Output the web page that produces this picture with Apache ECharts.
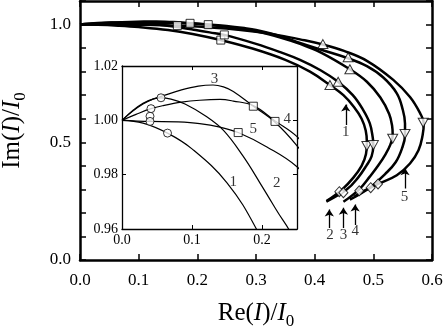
<!DOCTYPE html>
<html>
<head>
<meta charset="utf-8">
<title>Im(I)/I0 vs Re(I)/I0</title>
<script src="https://cdn.jsdelivr.net/npm/echarts@6/dist/echarts.min.js"></script>
<style>
  html, body { margin: 0; padding: 0; background: #fff; }
  #main { width: 443px; height: 336px; }
</style>
</head>
<body>
<div id="main"></div>
<script>
// curves, points are [Re(I)/I0, Im(I)/I0]
var curve1 = [[0,1],[0.03,0.999],[0.065,0.9953],[0.1,0.9895],[0.15,0.977],[0.192,0.960],[0.24,0.934],
  [0.294,0.898],[0.35,0.850],[0.392,0.800],[0.426,0.743],[0.449,0.70],[0.467,0.65],[0.48,0.60],
  [0.487,0.55],[0.489,0.50],[0.4875,0.45],[0.48,0.40],[0.466,0.35],[0.447,0.30],[0.42,0.25]];
var curve2 = [[0,1],[0.015,1.0035],[0.03,1.0063],[0.045,1.0079],[0.0557,1.0083],[0.07,1.0078],
  [0.09,1.006],[0.12,1.0015],[0.145,0.9963],[0.173,0.9868],[0.197,0.977],[0.221,0.9668],[0.246,0.956],
  [0.30,0.918],[0.34,0.884],[0.375,0.850],[0.41,0.806],[0.44,0.757],[0.465,0.70],[0.482,0.64],
  [0.494,0.58],[0.499,0.52],[0.50,0.488],[0.497,0.44],[0.488,0.40],[0.474,0.35],[0.455,0.30],[0.42,0.248]];
var curve3 = [[0,1],[0.015,1.0033],[0.03,1.006],[0.045,1.0079],[0.057,1.0089],[0.085,1.0112],
  [0.109,1.0126],[0.13,1.013],[0.145,1.0123],[0.159,1.0106],[0.1876,1.0052],[0.2186,0.9993],
  [0.2495,0.9908],[0.28,0.980],[0.30,0.971],[0.34,0.946],[0.375,0.918],[0.41,0.882],[0.46,0.81],
  [0.489,0.757],[0.512,0.69],[0.527,0.62],[0.532,0.57],[0.533,0.53],[0.529,0.49],[0.521,0.45],
  [0.508,0.40],[0.494,0.354],[0.476,0.30],[0.449,0.247]];
var curve4 = [[0,1],[0.02,1.0022],[0.0414,1.0043],[0.06,1.0055],[0.085,1.0067],[0.111,1.0074],
  [0.14,1.0077],[0.159,1.0071],[0.1876,1.0054],[0.2186,0.9998],[0.25,0.994],[0.28,0.985],
  [0.30,0.977],[0.34,0.952],[0.375,0.922],[0.41,0.894],[0.457,0.857],[0.489,0.823],[0.517,0.775],
  [0.54,0.708],[0.55,0.64],[0.554,0.58],[0.554,0.53],[0.549,0.475],[0.538,0.415],[0.52,0.365],
  [0.495,0.309],[0.46,0.256]];
var curve5 = [[0,1],[0.04,0.9996],[0.08,0.9994],[0.111,0.9988],[0.14,0.9975],[0.166,0.9955],
  [0.207,0.9902],[0.2495,0.983],[0.30,0.969],[0.34,0.954],[0.375,0.937],[0.414,0.915],[0.45,0.888],
  [0.489,0.846],[0.534,0.765],[0.5625,0.692],[0.58,0.622],[0.586,0.58],[0.584,0.53],[0.577,0.466],
  [0.5625,0.41],[0.54,0.36],[0.508,0.323],[0.485,0.295],[0.468,0.27]];
var curves = [curve1, curve2, curve3, curve4, curve5];

// markers
var squares = [[0.240,0.934],[0.246,0.956],[0.1876,1.0052],[0.2186,0.9996],[0.166,0.9955]];
var upTriangles = [[0.426,0.743],[0.44,0.757],[0.46,0.81],[0.457,0.861],[0.414,0.917]];
var downTriangles = [[0.489,0.484],[0.50,0.488],[0.533,0.515],[0.554,0.535],[0.585,0.583]];
var diamonds = [[0.442,0.29],[0.449,0.286],[0.476,0.294],[0.4955,0.307],[0.508,0.323]];
var circles = [[0.065,0.9953],[0.0557,1.0083],[0.0414,1.0043],[0.04,1.0015],[0.04,0.9996]];

// curve numbers and arrows
var mainLabels = [[0.453,0.545,'1'],[0.426,0.104,'2'],[0.449,0.104,'3'],[0.469,0.125,'4'],[0.553,0.266,'5']];
var arrows = [[[0.453,0.573],[0.453,0.66]],[[0.425,0.136],[0.425,0.215]],[[0.449,0.136],[0.449,0.222]],
  [[0.469,0.149],[0.469,0.236]],[[0.554,0.304],[0.554,0.39]]];
var insetLabels = [[0.159,0.9774,'1'],[0.221,0.9768,'2'],[0.132,1.0153,'3'],[0.236,1.0003,'4'],[0.1876,0.9967,'5']];

var serif = '"Liberation Serif", "Times New Roman", serif';

var myChart = echarts.init(document.getElementById('main'));

function titleRich(size) {
  return {
    a: { fontFamily: serif, fontSize: size, color: '#000' },
    i: { fontFamily: serif, fontSize: size, fontStyle: 'italic', color: '#000' },
    s: { fontFamily: serif, fontSize: 17, color: '#000', padding: [16, 0, 0, 0] }
  };
}

function axis(grid, pos, min, max, interval, opts) {
  var big = grid === 0;
  var a = {
    gridIndex: grid, type: 'value', position: pos, min: min, max: max, interval: interval,
    z: big ? 0 : 5,
    axisLine: { show: true, onZero: false, lineStyle: { color: '#000', width: big ? 2.5 : 1.3 } },
    axisTick: { show: true, inside: true, length: big ? 6 : 4, lineStyle: { color: '#000', width: big ? 1.5 : 1 } },
    axisLabel: { show: false },
    splitLine: { show: false }
  };
  for (var k in opts) a[k] = opts[k];
  return a;
}

var series = [];
curves.forEach(function (c) {
  series.push({ type: 'line', xAxisIndex: 0, yAxisIndex: 0, data: c, smooth: 0.4, symbol: 'none',
    lineStyle: { color: '#000', width: 2.5 }, z: 2 });
  series.push({ type: 'line', xAxisIndex: 2, yAxisIndex: 2, data: c, smooth: 0.4, symbol: 'none',
    lineStyle: { color: '#000', width: 1.2 }, z: 6 });
});

var markerStyle = { color: '#fff', borderColor: '#000', borderWidth: 1 };
series.push({ type: 'scatter', xAxisIndex: 0, yAxisIndex: 0, data: squares, symbol: 'rect', symbolSize: 8, itemStyle: markerStyle, z: 3 });
series.push({ type: 'scatter', xAxisIndex: 0, yAxisIndex: 0, data: upTriangles, symbol: 'triangle', symbolSize: [10, 9], itemStyle: markerStyle, z: 3 });
series.push({ type: 'scatter', xAxisIndex: 0, yAxisIndex: 0, data: downTriangles, symbol: 'triangle', symbolRotate: 180, symbolSize: [10, 9], itemStyle: markerStyle, z: 3 });
series.push({ type: 'scatter', xAxisIndex: 0, yAxisIndex: 0, data: diamonds, symbol: 'diamond', symbolSize: [9, 10], itemStyle: markerStyle, z: 3 });
series.push({ type: 'scatter', xAxisIndex: 2, yAxisIndex: 2, data: squares, symbol: 'rect', symbolSize: 8, itemStyle: markerStyle, z: 7 });
series.push({ type: 'scatter', xAxisIndex: 2, yAxisIndex: 2, data: circles, symbol: 'circle', symbolSize: 8, itemStyle: markerStyle, z: 7 });

series.push({
  type: 'lines', coordinateSystem: 'cartesian2d', xAxisIndex: 0, yAxisIndex: 0,
  data: arrows.map(function (a) { return { coords: a }; }),
  symbol: ['none', 'arrow'], symbolSize: 7,
  lineStyle: { color: '#000', width: 1.3, opacity: 1 }, z: 3
});

function labelSeries(data, xi, yi, z) {
  return {
    type: 'scatter', xAxisIndex: xi, yAxisIndex: yi, data: data, symbolSize: 1, z: z, silent: true,
    itemStyle: { color: 'rgba(0,0,0,0)' },
    label: { show: true, position: 'inside', formatter: function (p) { return p.data[2]; },
      color: '#000', fontFamily: serif, fontSize: 15 }
  };
}
series.push(labelSeries(mainLabels, 0, 0, 3));
series.push(labelSeries(insetLabels, 2, 2, 7));

var option = {
  animation: false,
  backgroundColor: '#fff',
  grid: [
    { left: 80, top: 1, width: 352, height: 259, show: false, outerBoundsMode: 'none' },
    { left: 122, top: 66, width: 175, height: 163, show: true, backgroundColor: '#fff', borderWidth: 0, z: 3,
      outerBoundsMode: 'none' }
  ],
  xAxis: [
    axis(0, 'bottom', 0, 0.6, 0.1, {
      axisLabel: { show: true, margin: 12, color: '#000', fontFamily: serif, fontSize: 17,
        showMinLabel: true, showMaxLabel: true, formatter: function (v) { return v.toFixed(1); } },
      name: '{a|Re(}{i|I}{a|)/}{i|I}{s|0}', nameLocation: 'middle', nameGap: 37,
      nameTextStyle: { rich: titleRich(25) }
    }),
    axis(0, 'top', 0, 0.6, 0.1, {}),
    axis(1, 'bottom', 0, 0.25, 0.1, {
      axisLabel: { show: true, margin: 4, color: '#000', fontFamily: serif, fontSize: 14,
        showMaxLabel: false, formatter: function (v) { return v.toFixed(1); } }
    }),
    axis(1, 'top', 0, 0.25, 0.1, {})
  ],
  yAxis: [
    axis(0, 'left', 0, 1.1, 0.1, {
      axisLabel: { show: true, margin: 9, color: '#000', fontFamily: serif, fontSize: 17,
        formatter: function (v) { return Math.abs(v * 2 - Math.round(v * 2)) < 1e-6 ? v.toFixed(1) : ''; } },
      name: '{a|Im(}{i|I}{a|)/}{i|I}{s|0}', nameLocation: 'middle', nameGap: 51,
      nameTextStyle: { rich: titleRich(25) }
    }),
    axis(0, 'right', 0, 1.1, 0.1, {}),
    axis(1, 'left', 0.96, 1.02, 0.02, {
      axisLabel: { show: true, margin: 4, color: '#000', fontFamily: serif, fontSize: 14,
        formatter: function (v) { return v.toFixed(2); } }
    }),
    axis(1, 'right', 0.96, 1.02, 0.02, {})
  ],
  series: series
};

myChart.setOption(option);
</script>
</body>
</html>
